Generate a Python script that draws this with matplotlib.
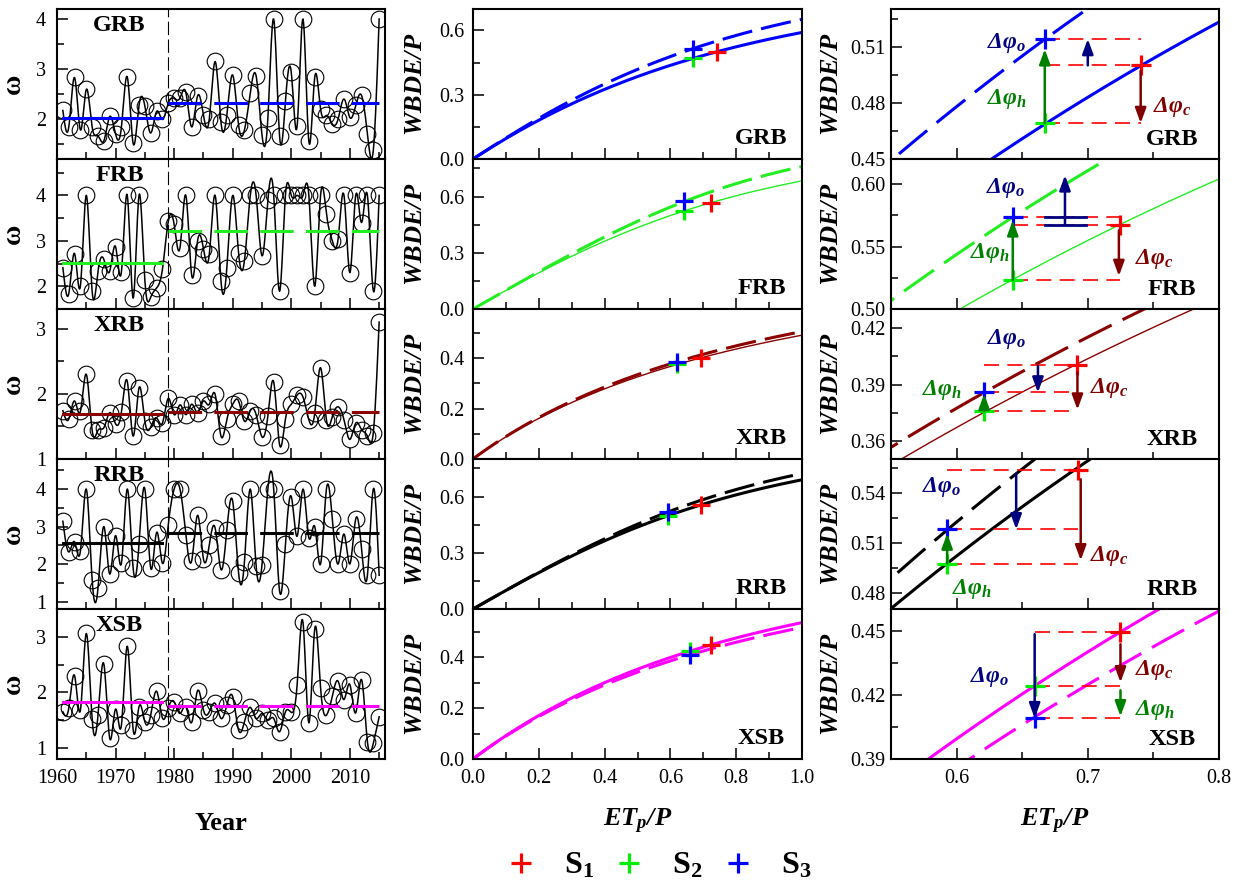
import numpy as np
import matplotlib
matplotlib.use('Agg')
import matplotlib.pyplot as plt
from matplotlib.lines import Line2D
from matplotlib.ticker import MultipleLocator, FormatStrFormatter

plt.rcParams['font.family'] = ['Liberation Serif', 'DejaVu Serif']
plt.rcParams['mathtext.fontset'] = 'custom'
plt.rcParams['mathtext.rm'] = 'Liberation Serif:bold:italic'
plt.rcParams['mathtext.it'] = 'Liberation Serif:bold:italic'
plt.rcParams['mathtext.bf'] = 'Liberation Serif:bold'

# ---- data ----
years = np.arange(1961, 2016)
basins = ['GRB', 'FRB', 'XRB', 'RRB', 'XSB']

omega_grb = [2.17, 1.83, 2.83, 1.78, 2.59, 1.84, 1.66, 1.56, 2.05, 1.70,
             1.84, 2.84, 1.51, 2.27, 2.26, 1.72, 2.15, 1.99, 2.32, 2.41,
             2.42, 2.53, 1.84, 2.46, 2.08, 2.00, 3.15, 1.93, 2.08, 2.88,
             1.88, 1.78, 2.52, 2.86, 1.68, 2.01, 4.00, 1.66, 2.35, 2.93,
             1.86, 4.00, 1.55, 2.83, 2.20, 2.07, 1.90, 2.00, 2.40, 2.03,
             2.27, 2.47, 1.70, 1.37, 4.00]
omega_frb = [2.41, 1.83, 2.72, 2.01, 4.00, 1.89, 2.33, 2.59, 2.33, 2.87,
             2.32, 4.00, 1.74, 4.00, 2.13, 1.76, 1.96, 2.37, 3.43, 3.36,
             2.85, 4.00, 2.24, 3.00, 2.83, 2.70, 4.00, 2.11, 2.41, 4.00,
             2.73, 2.56, 4.00, 4.00, 2.67, 3.89, 4.00, 1.89, 4.00, 4.00,
             4.00, 4.00, 4.00, 2.00, 4.00, 3.60, 3.00, 3.05, 4.00, 2.30,
             4.00, 3.40, 4.00, 1.90, 4.00]
omega_xrb = [1.74, 1.61, 1.89, 1.73, 2.30, 1.44, 1.44, 1.48, 1.71, 1.54,
             1.72, 2.19, 1.35, 2.09, 1.58, 1.49, 1.63, 1.55, 1.93, 1.68,
             1.83, 1.68, 1.84, 1.71, 1.89, 1.84, 1.99, 1.35, 1.61, 1.84,
             1.89, 1.58, 1.74, 1.68, 1.34, 1.66, 2.18, 1.22, 1.61, 1.84,
             1.98, 1.95, 1.60, 1.70, 2.40, 1.60, 1.65, 1.80, 1.60, 1.30,
             1.55, 1.45, 1.35, 1.40, 3.10]
omega_rrb = [3.14, 2.32, 2.59, 2.35, 4.00, 1.58, 1.36, 3.00, 1.73, 2.76,
             2.02, 4.00, 1.89, 2.53, 4.00, 1.89, 2.84, 2.02, 3.05, 4.00,
             4.00, 2.78, 2.09, 3.30, 2.14, 2.51, 2.96, 1.85, 2.91, 3.67,
             1.76, 2.05, 4.00, 1.94, 1.98, 4.00, 4.00, 1.28, 2.53, 3.80,
             2.74, 4.00, 2.70, 3.00, 2.00, 4.00, 3.20, 2.00, 2.80, 2.00,
             3.20, 2.40, 1.70, 4.00, 1.70]
omega_xsb = [1.65, 1.71, 2.30, 1.68, 3.06, 1.52, 1.59, 2.51, 1.17, 1.70,
             1.41, 2.83, 1.33, 1.74, 1.47, 1.59, 2.02, 1.54, 1.72, 1.83,
             1.62, 1.74, 1.46, 2.03, 1.68, 1.65, 1.80, 1.53, 1.77, 1.92,
             1.32, 1.47, 1.73, 1.53, 1.62, 1.50, 1.53, 1.29, 1.65, 1.64,
             2.14, 3.26, 1.45, 3.14, 2.08, 1.59, 1.93, 2.20, 1.87, 2.14,
             1.63, 2.23, 1.11, 1.08, 1.56]
omega_series = [omega_grb, omega_frb, omega_xrb, omega_rrb, omega_xsb]

# mean omega before / after 1979
omega_pre = [2.02, 2.52, 1.685, 2.56, 1.82]
omega_post = [2.32, 3.22, 1.725, 2.83, 1.76]

# S1, S2, S3 points (ETp/P, WBDE/P)
s1_x = [0.7403, 0.7246, 0.6915, 0.6928, 0.7249]
s1_y = [0.5003, 0.5670, 0.4007, 0.5536, 0.4495]
s2_x = [0.6672, 0.6428, 0.6210, 0.5928, 0.6595]
s2_y = [0.4693, 0.5234, 0.3758, 0.4970, 0.4242]
s3_y = [0.5145, 0.5737, 0.3859, 0.5180, 0.4091]

# arrows in the zoom panels: (x, y start, y end)
arrow_o = [(0.700, 0.5003, 0.5145), (0.6826, 0.5675, 0.6070), (0.662, 0.4000, 0.3858),
           (0.6454, 0.5515, 0.5180), (0.6595, 0.4485, 0.4091)]
arrow_h = [(0.6672, 0.4693, 0.5090), (0.6428, 0.5234, 0.5710), (0.621, 0.3758, 0.3851),
           (0.5928, 0.4975, 0.5155), (0.7249, 0.4222, 0.4100)]
arrow_c = [(0.7403, 0.4973, 0.4693), (0.7237, 0.5629, 0.5264), (0.6921, 0.3966, 0.3767),
           (0.6946, 0.5480, 0.4994), (0.7249, 0.4438, 0.4259)]
# label positions for delta phi o / h / c
lab_o = [(0.6377, 0.5123), (0.6376, 0.5966), (0.6377, 0.4144), (0.5882, 0.5436), (0.6249, 0.4286)]
lab_h = [(0.6385, 0.4821), (0.6254, 0.5450), (0.5890, 0.3873), (0.6120, 0.4824), (0.7510, 0.4131)]
lab_c = [(0.7646, 0.4782), (0.7510, 0.5400), (0.7164, 0.3882), (0.7164, 0.5022), (0.7505, 0.4317)]

# ---- styles ----
line_colors = ['#0000ff', '#22ee22', '#8b0000', 'black', '#ff00ff']
solid_lw = [2.2, 1.0, 1.0, 2.2, 2.2]
left_ylim = [(1.2, 4.2), (1.5, 4.8), (1.0, 3.3), (0.8, 4.8), (0.8, 3.5)]
mid_ylim = [(0, 0.7), (0, 0.8), (0, 0.595), (0, 0.8), (0, 0.59)]
mid_step = [0.3, 0.3, 0.2, 0.3, 0.2]
right_ylim = [(0.45, 0.5306), (0.50, 0.62), (0.3504, 0.4303), (0.4702, 0.5602), (0.39, 0.4603)]
right_step = [0.03, 0.05, 0.03, 0.03, 0.03]


def fu(x, w):
    # Fu's Budyko type curve
    return 1 + x - (1 + x ** w) ** (1.0 / w)


def smooth(x, y, n=12):
    # natural cubic spline through the yearly points (spline connect line)
    x = np.asarray(x, float)
    y = np.asarray(y, float)
    h = np.diff(x)
    m = len(x)
    A = np.zeros((m, m))
    b = np.zeros(m)
    A[0, 0] = A[-1, -1] = 1
    for i in range(1, m - 1):
        A[i, i - 1] = h[i - 1]
        A[i, i] = 2 * (h[i - 1] + h[i])
        A[i, i + 1] = h[i]
        b[i] = 6 * ((y[i + 1] - y[i]) / h[i] - (y[i] - y[i - 1]) / h[i - 1])
    M = np.linalg.solve(A, b)
    xs = np.linspace(x[0], x[-1], (m - 1) * n + 1)
    i = np.clip(np.searchsorted(x, xs) - 1, 0, m - 2)
    hh = h[i]
    a = x[i + 1] - xs
    t = xs - x[i]
    ys = (M[i] * a ** 3 / (6 * hh) + M[i + 1] * t ** 3 / (6 * hh)
          + (y[i] / hh - M[i] * hh / 6) * a + (y[i + 1] / hh - M[i + 1] * hh / 6) * t)
    return xs, ys


def style(ax, pad):
    ax.tick_params(which='both', direction='in', top=False, right=False,
                   labelsize=14.5, width=1.1, pad=pad)
    ax.tick_params(which='major', length=8)
    ax.tick_params(which='minor', length=5)
    ax.tick_params(axis='x', pad=7)
    for s in ax.spines.values():
        s.set_linewidth(1.5)


W, H = 1239, 888
fig = plt.figure(figsize=(12.39, 8.88), dpi=100)
col_x = [57, 473, 891]
row_top = [9, 159, 309, 459, 609]

for k, name in enumerate(basins):
    c = line_colors[k]
    bottom = 1 - (row_top[k] + 150) / H
    ax1 = fig.add_axes([col_x[0] / W, bottom, 328 / W, 150 / H])
    ax2 = fig.add_axes([col_x[1] / W, bottom, 329 / W, 150 / H])
    ax3 = fig.add_axes([col_x[2] / W, bottom, 328 / W, 150 / H])

    # ---- omega time series ----
    xs, ys = smooth(years, omega_series[k])
    ax1.plot(xs, ys, color='black', lw=1.1)
    ax1.plot(years, omega_series[k], 'o', mfc='none', mec='black', ms=12, mew=0.8)
    ax1.axvline(1979, color='black', lw=0.8, ls=(0, (12, 4)))
    ax1.plot([1961, 1978], [omega_pre[k]] * 2, color=c, lw=2.2)
    ax1.plot([1979, 2015], [omega_post[k]] * 2, color=c, lw=2.2, ls=(0, (11, 4)))
    ax1.set_xlim(1960, 2016)
    ax1.set_ylim(*left_ylim[k])
    ax1.xaxis.set_major_locator(MultipleLocator(10))
    ax1.xaxis.set_minor_locator(MultipleLocator(5))
    ax1.yaxis.set_major_locator(MultipleLocator(1))
    ax1.yaxis.set_minor_locator(MultipleLocator(0.5))
    style(ax1, 8)
    ax1.set_ylabel('ω', fontsize=20, fontweight='bold')
    ax1.yaxis.set_label_coords(-0.095, 0.5)
    ax1.text(0.19, 0.89, name, transform=ax1.transAxes, ha='center', va='center',
             fontsize=17.5, fontweight='bold')

    # ---- Budyko curves ----
    et = np.linspace(0, 1, 201)
    ax2.plot(et, fu(et, omega_pre[k]), color=c, lw=solid_lw[k])
    ax2.plot(et, fu(et, omega_post[k]), color=c, lw=2.2, ls=(0, (10, 3)))
    ax2.plot(s1_x[k], s1_y[k], '+', color='red', ms=13, mew=2.3)
    ax2.plot(s2_x[k], s2_y[k], '+', color='#00ee00', ms=13, mew=2.3)
    ax2.plot(s2_x[k], s3_y[k], '+', color='blue', ms=13, mew=2.3)
    ax2.set_xlim(0, 1)
    ax2.set_ylim(*mid_ylim[k])
    ax2.xaxis.set_major_locator(MultipleLocator(0.2))
    ax2.xaxis.set_minor_locator(MultipleLocator(0.1))
    ax2.yaxis.set_major_locator(MultipleLocator(mid_step[k]))
    ax2.yaxis.set_minor_locator(MultipleLocator(mid_step[k] / 2))
    ax2.xaxis.set_major_formatter(FormatStrFormatter('%.1f'))
    ax2.yaxis.set_major_formatter(FormatStrFormatter('%.1f'))
    style(ax2, 6)
    ax2.set_ylabel(r'$WBDE/P$', fontsize=19)
    ax2.yaxis.set_label_coords(-0.14, 0.5)
    ax2.text(0.877, 0.14, name, transform=ax2.transAxes, ha='center', va='center',
             fontsize=17.5, fontweight='bold')

    # ---- zoomed view with decomposition arrows ----
    et = np.linspace(0.5, 0.85, 200)
    ax3.plot(et, fu(et, omega_pre[k]), color=c, lw=solid_lw[k])
    ax3.plot(et, fu(et, omega_post[k]), color=c, lw=2.2, ls=(0, (12, 4)))
    for yy in [s1_y[k], s2_y[k], s3_y[k]]:
        ax3.plot([s2_x[k], s1_x[k]], [yy, yy], color='red', lw=1.2, ls=(0, (9, 5)))
    ax3.plot(s1_x[k], s1_y[k], '+', color='red', ms=15, mew=2.3)
    ax3.plot(s2_x[k], s2_y[k], '+', color='#00ee00', ms=15, mew=2.3)
    ax3.plot(s2_x[k], s3_y[k], '+', color='blue', ms=15, mew=2.3)
    if name == 'FRB':
        for yy in [s1_y[k], s3_y[k]]:
            ax3.plot([0.6677, 0.6985], [yy, yy], color='#000080', lw=2)
    for arr, ac in [(arrow_o, '#000080'), (arrow_h, '#008000'), (arrow_c, '#800000')]:
        x0, ya, yb = arr[k]
        ax3.annotate('', xy=(x0, yb), xytext=(x0, ya),
                     arrowprops=dict(arrowstyle='-|>,head_length=0.6,head_width=0.22',
                                     color=ac, lw=1.8, mutation_scale=15,
                                     shrinkA=0, shrinkB=0))
    ax3.text(*lab_o[k], r'$\Delta\varphi_o$', color='#000080', fontsize=17, ha='center', va='center')
    ax3.text(*lab_h[k], r'$\Delta\varphi_h$', color='#008000', fontsize=17, ha='center', va='center')
    ax3.text(*lab_c[k], r'$\Delta\varphi_c$', color='#800000', fontsize=17, ha='center', va='center')
    ax3.set_xlim(0.55, 0.8)
    ax3.set_ylim(*right_ylim[k])
    ax3.xaxis.set_major_locator(MultipleLocator(0.1))
    ax3.xaxis.set_minor_locator(MultipleLocator(0.05))
    ax3.yaxis.set_major_locator(MultipleLocator(right_step[k]))
    ax3.yaxis.set_minor_locator(MultipleLocator(right_step[k] / 2))
    ax3.xaxis.set_major_formatter(FormatStrFormatter('%.1f'))
    ax3.yaxis.set_major_formatter(FormatStrFormatter('%.2f'))
    style(ax3, 4)
    ax3.set_ylabel(r'$WBDE/P$', fontsize=19)
    ax3.yaxis.set_label_coords(-0.146, 0.5)
    ax3.text(0.856, 0.127, name, transform=ax3.transAxes, ha='center', va='center',
             fontsize=17.5, fontweight='bold')

    if k < 4:
        for ax in (ax1, ax2, ax3):
            ax.tick_params(labelbottom=False)
    else:
        ax1.set_xlabel('Year', fontsize=19, fontweight='bold')
        ax1.xaxis.set_label_coords(0.5, -0.35)
        for ax in (ax2, ax3):
            ax.set_xlabel(r'$ET_p/P$', fontsize=19)
            ax.xaxis.set_label_coords(0.5, -0.32)

# legend at the bottom
handles = [Line2D([], [], ls='none', marker='+', color=col, ms=15, mew=2.3)
           for col in ['red', '#00ee00', 'blue']]
fig.legend(handles, [r'$\mathbf{S_1}$', r'$\mathbf{S_2}$', r'$\mathbf{S_3}$'],
           loc='center', bbox_to_anchor=(658 / W, 1 - 866 / H), ncol=3, frameon=False,
           fontsize=23, handlelength=1.0, handletextpad=0.85, columnspacing=0.6)

fig.savefig('out.png', dpi=100)
